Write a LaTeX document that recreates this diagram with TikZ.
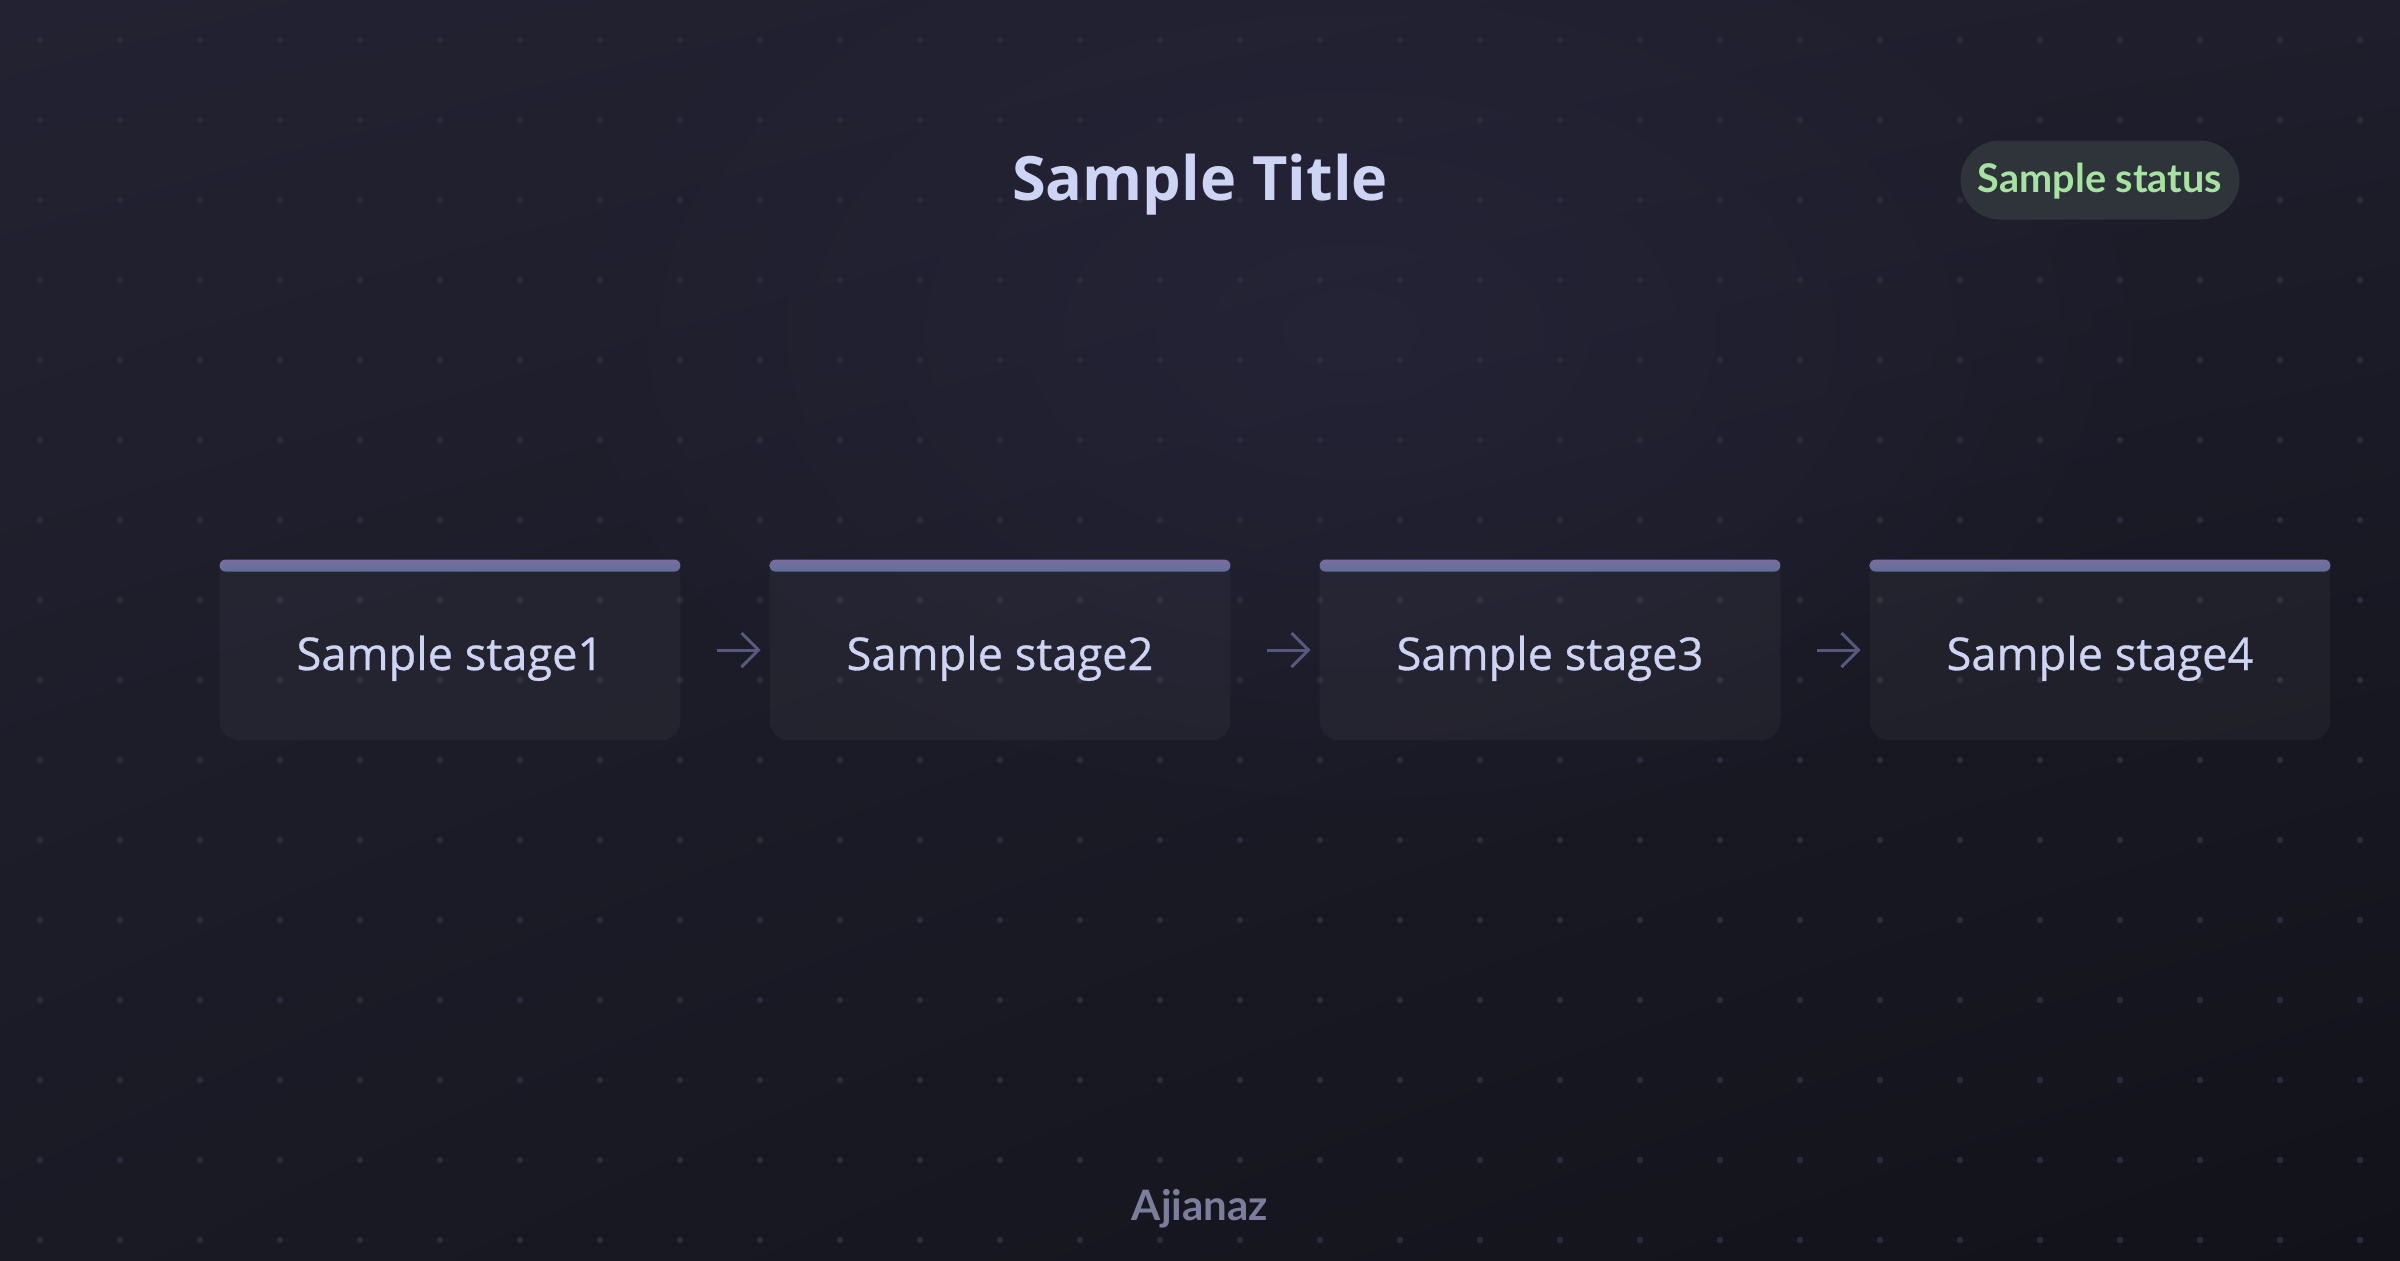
\documentclass[tikz,border=0pt]{standalone}
\usepackage{fontspec}
\setmainfont{Open Sans}
\newfontfamily\latofont{Lato}
\newfontfamily\stagefont[FakeBold=0.7]{Open Sans}
\usetikzlibrary{arrows.meta,calc,fadings,shadings}
\tikzfading[name=glowfade, inner color=transparent!0, outer color=transparent!100]
\definecolor{bgA}{HTML}{222232}
\definecolor{bgB}{HTML}{1E1E2C}
\definecolor{bgC}{HTML}{1A1A25}
\definecolor{bgD}{HTML}{12121A}
\definecolor{glowc}{HTML}{2C2A42}
\definecolor{dotc}{HTML}{2B2B3B}
\definecolor{barA}{HTML}{7B6E9E}
\definecolor{barB}{HTML}{5F6F99}
\definecolor{txtc}{HTML}{CDD4F4}
\definecolor{arrc}{HTML}{58587F}
\definecolor{pillc}{HTML}{2F343B}
\definecolor{greenc}{HTML}{A6E3A1}
\definecolor{footc}{HTML}{7B7E9B}
\tikzset{
  stagebox/.style={minimum width=230pt, minimum height=90pt, inner sep=0pt},
  stagefill/.style={fill=white, fill opacity=0.035},
  stagelabel/.style={anchor=base, inner sep=0pt, text=txtc, font=\stagefont\fontsize{22.6pt}{25pt}\selectfont},
  flowarrow/.style={draw=arrc, line width=1.5pt, shorten <=18.5pt, shorten >=4.5pt, -{Straight Barb[length=8.5pt,width=17pt]}},
  pill/.style={fill=pillc, minimum width=139.5pt, minimum height=39.5pt, rounded corners=19.75pt, inner sep=0pt},
  pilltext/.style={anchor=base, inner sep=0pt, text=greenc, font=\latofont\bfseries\fontsize{19.8pt}{22pt}\selectfont},
  titlestyle/.style={anchor=base, inner sep=0pt, text=txtc, font=\bfseries\fontsize{30.6pt}{34pt}\selectfont},
  footstyle/.style={anchor=base, inner sep=0pt, text=footc, font=\latofont\bfseries\fontsize{21pt}{24pt}\selectfont}
}
\begin{document}
\begin{tikzpicture}[x=0.5pt,y=-0.5pt]
\useasboundingbox (0,0) rectangle (2400,1260);
% background
\shade[upper left=bgA, upper right=bgB, lower left=bgC, lower right=bgD] (0,0) rectangle (2400,1260);
\fill[glowc, path fading=glowfade, opacity=0.5] (1350,330) ellipse [x radius=420pt, y radius=260pt];
% dot grid
\foreach \i in {0,...,29}{
  \foreach \j in {0,...,15}{
    \fill[dotc] (40+80*\i, 40+80*\j) circle[radius=1.65pt];
  }
}
% title and status
\node[titlestyle] (title) at (1200,200) {Sample Title};
\node[pill] (status) at (2100,180) {};
\node[pilltext] (statustext) at ([yshift=-6pt]status.center) {Sample status};
% stages
\foreach \k/\x in {1/450, 2/1000, 3/1550, 4/2100}{
  \node[stagebox] (s\k) at (\x,650) {};
  \fill[stagefill] (s\k.north west) -- ([yshift=10pt]s\k.south west)
     arc[start angle=180, end angle=270, radius=10pt]
     -- ([xshift=-10pt]s\k.south east)
     arc[start angle=270, end angle=360, radius=10pt]
     -- (s\k.north east) -- cycle;
  \shade[top color=barA, bottom color=barB, rounded corners=3pt] (s\k.north west) rectangle ([yshift=-6pt]s\k.north east);
  \node[stagelabel] (l\k) at ([yshift=-10pt]s\k.center) {Sample stage\k};
}
\draw[flowarrow] (s1.east) -- (s2.west);
\draw[flowarrow] (s2.east) -- (s3.west);
\draw[flowarrow] (s3.east) -- (s4.west);
% footer
\node[footstyle] (foot) at (1200,1220) {Ajianaz};
\end{tikzpicture}
\end{document}
